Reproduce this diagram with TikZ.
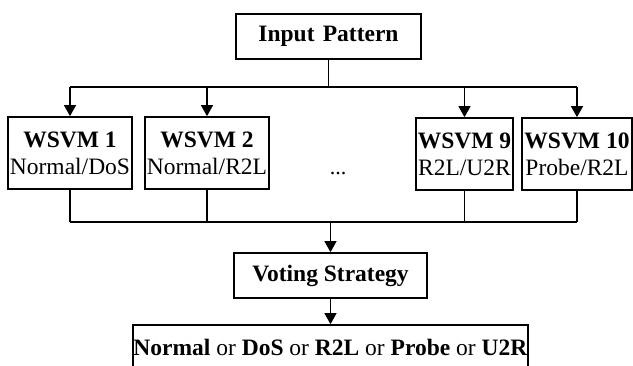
\documentclass[tikz,border=0pt]{standalone}
\usepackage{fontspec}
\setmainfont{Liberation Serif}
\usetikzlibrary{arrows.meta, positioning}
\tikzstyle{flow} = [line width=1.3pt, -{Triangle[length=11pt,width=12pt]}]

\begin{document}
\begin{tikzpicture}[
  x=1pt, y=-1pt,
  box/.style={draw=black, line width=1.7pt, inner sep=0pt, align=center,
    font=\fontsize{23.5}{27}\selectfont},
  bus/.style={line width=1.3pt}
]
\useasboundingbox (0,0) rectangle (633,365);

\node[box, minimum width=185pt, minimum height=45pt] (input) at (328.5,36.5) {\textbf{Input\hspace{0.35em}Pattern}};

\node[box, minimum width=124pt, minimum height=72pt] (svm1) at (70,153) {\textbf{WSVM 1}\\Normal/DoS};
\node[box, minimum width=124pt, minimum height=72pt] (svm2) at (207,153) {\textbf{WSVM 2}\\Normal/R2L};
\node[font=\fontsize{22}{26}\selectfont] (dots) at (338,174) {...};
\node[box, minimum width=97pt, minimum height=72pt] (svm9) at (464.5,154) {\textbf{WSVM 9}\\R2L/U2R};
\node[box, minimum width=110pt, minimum height=72pt] (svm10) at (577,154) {\textbf{WSVM 10}\\Probe/R2L};

\node[box, minimum width=193pt, minimum height=45pt] (vote) at (330.5,275.5) {\textbf{Voting Strategy}};
\node[box, minimum width=395pt, minimum height=44pt] (outcome) at (330.5,347) {\textbf{Normal} or \textbf{DoS} or \textbf{R2L} or \textbf{Probe} or \textbf{U2R}};

\coordinate (topbus) at (328,87);
\coordinate (lowbus) at (331,222);

\draw[bus] (input.south) -- (input.south |- topbus);
\draw[bus] (svm1 |- topbus) -- (svm10 |- topbus);
\foreach \n in {svm1,svm2,svm9,svm10}
  \draw[flow] (\n |- topbus) -- (\n.north);

\foreach \n in {svm1,svm2,svm9,svm10}
  \draw[bus] (\n.south) -- (\n |- lowbus);
\draw[bus] (svm1 |- lowbus) -- (svm10 |- lowbus);
\draw[flow] (vote |- lowbus) -- (vote.north);
\draw[flow] (vote.south) -- (outcome.north);

\end{tikzpicture}
\end{document}
